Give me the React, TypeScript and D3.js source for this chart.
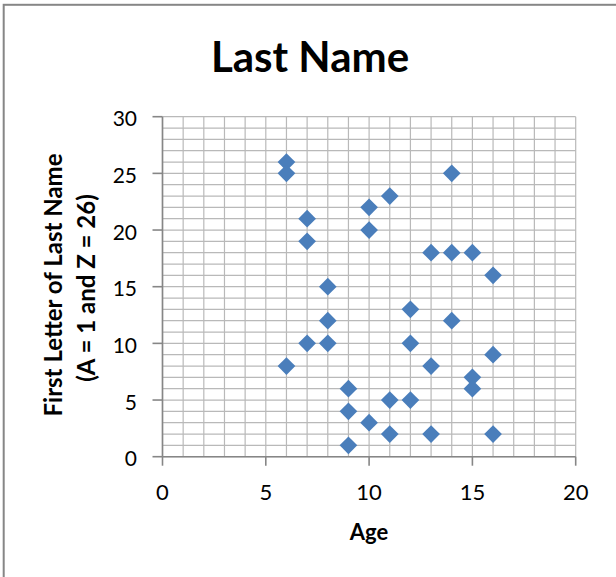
import React from "react";
import * as d3 from "d3";

const ages: number[] = [6, 6, 6, 7, 7, 7, 8, 8, 8, 9, 9, 9, 10, 10, 10, 11, 11, 11, 12, 12, 12, 13, 13, 13, 14, 14, 14, 15, 15, 15, 16, 16, 16];
const letters: number[] = [26, 25, 8, 21, 19, 10, 15, 12, 10, 6, 4, 1, 22, 20, 3, 23, 5, 2, 13, 10, 5, 18, 8, 2, 25, 18, 12, 18, 7, 6, 16, 9, 2];
const xTickValues: number[] = [0, 5, 10, 15, 20];
const yTickValues: number[] = [0, 5, 10, 15, 20, 25, 30];
const titleText = "Last Name";
const xTitle = "Age";
const yTitleLines: string[] = ["First Letter of Last Name", "(A = 1 and Z = 26)"];

const W = 616;
const H = 577;
const FONT = "Lato, 'Liberation Sans', Arial, sans-serif";

export default function App() {
  const x = d3.scaleLinear().domain([0, 20]).range([162.5, 575.7]);
  const y = d3.scaleLinear().domain([0, 30]).range([456.7, 116.7]);
  const gridX = d3.range(0, 21, 1);
  const gridY = d3.range(0, 31, 1);
  const diamond = d3.symbol().type(d3.symbolDiamond2).size(200)();
  const data = ages.map((a, i) => ({ a, l: letters[i] }));
  const [x0, x1] = x.range();
  const [y0, y1] = y.range();

  return (
    <svg
      width={W}
      height={H}
      style={{ position: "absolute", left: 0, top: 0, background: "#fff" }}
      fontFamily={FONT}
    >
      <rect x={0} y={0} width={W} height={H} fill="#fff" />
      <rect x={3.7} y={4.8} width={W + 20} height={H + 20} fill="none" stroke="#868686" strokeWidth={2} />
      <text x={310} y={72} textAnchor="middle" fontSize={42} fontWeight="bold" fill="#000">
        {titleText}
      </text>
      <g>
        {gridX.map((v) => (
          <line key={"gx" + v} x1={x(v)} x2={x(v)} y1={y1} y2={y0} stroke="#B9B9B9" strokeWidth={1.2} />
        ))}
        {gridY.map((v) => (
          <line key={"gy" + v} x1={x0} x2={x1} y1={y(v)} y2={y(v)} stroke="#B9B9B9" strokeWidth={1.2} />
        ))}
      </g>
      <line x1={x0} x2={x0} y1={y1} y2={y0} stroke="#868686" strokeWidth={1.6} />
      <line x1={x0} x2={x1} y1={y0} y2={y0} stroke="#868686" strokeWidth={1.6} />
      {yTickValues.map((v) => (
        <g key={"yt" + v}>
          <line x1={x0 - 10} x2={x0} y1={y(v)} y2={y(v)} stroke="#868686" strokeWidth={1.6} />
          <text x={137} y={y(v) + 9.5} textAnchor="end" fontSize={21} fill="#000">
            {v}
          </text>
        </g>
      ))}
      {xTickValues.map((v) => (
        <g key={"xt" + v}>
          <line x1={x(v)} x2={x(v)} y1={y0} y2={y0 + 9} stroke="#868686" strokeWidth={1.6} />
          <text x={x(v)} y={500} textAnchor="middle" fontSize={22} fill="#000">
            {v}
          </text>
        </g>
      ))}
      <text x={369} y={540} textAnchor="middle" fontSize={22} fontWeight="bold" fill="#000">
        {xTitle}
      </text>
      <text
        transform="translate(62,285) rotate(-90)"
        textAnchor="middle"
        fontSize={24}
        fontWeight="bold"
        fill="#000"
      >
        {yTitleLines[0]}
      </text>
      <text
        transform="translate(95,288) rotate(-90)"
        textAnchor="middle"
        fontSize={24}
        fontWeight="bold"
        fill="#000"
      >
        {yTitleLines[1]}
      </text>
      <g>
        {data.map((d, i) => (
          <path key={i} d={diamond as string} transform={`translate(${x(d.a)},${y(d.l)})`} fill="#4A7EBB" />
        ))}
      </g>
    </svg>
  );
}
